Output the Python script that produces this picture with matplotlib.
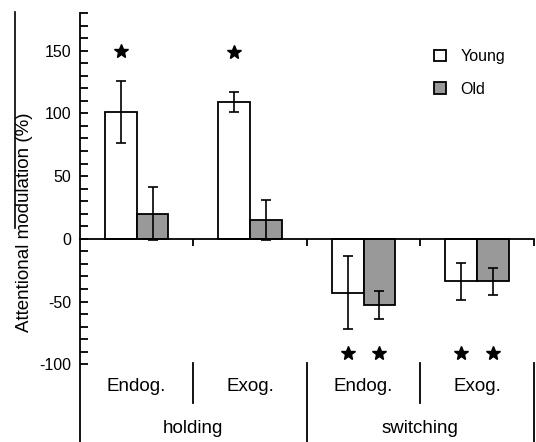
import matplotlib.pyplot as plt
import numpy as np
from matplotlib.patches import Patch
from matplotlib.lines import Line2D

plt.rcParams['font.family'] = ['Liberation Sans', 'DejaVu Sans']
plt.rcParams['axes.unicode_minus'] = False

# data
conditions = ["Endog.", "Exog.", "Endog.", "Exog."]
tasks = ["holding", "switching"]
young_mean = [101, 109, -43, -34]
young_err = [25, 8, 29, 15]
old_mean = [20, 15, -53, -34]
old_err = [21, 16, 11, 11]
# significance stars (x = group position, y = value)
star_x = [0.36, 1.36, 2.36, 2.64, 3.36, 3.64]
star_y = [150, 149, -91, -91, -91, -91]

fig = plt.figure(figsize=(5.36, 4.42), dpi=100)
ax = fig.add_axes([0.149, 0.0, 0.847, 0.9706])

x = np.arange(len(conditions)) + 0.5
w = 0.28
ekw = dict(ecolor='black', elinewidth=1.2, capsize=3.5, capthick=1.2)
ax.bar(x - w/2, young_mean, w, yerr=young_err, color='white',
       edgecolor='black', linewidth=1.3, error_kw=ekw, label='Young', zorder=2)
ax.bar(x + w/2, old_mean, w, yerr=old_err, color='#999999',
       edgecolor='black', linewidth=1.3, error_kw=ekw, label='Old', zorder=2)

ax.plot(star_x, star_y, '*', color='black', markersize=10.5, linestyle='none')

ax.set_xlim(0, 4)
ax.set_ylim(-162, 180)
ax.spines['top'].set_visible(False)
ax.spines['right'].set_visible(False)
ax.spines['bottom'].set_position(('data', 0))
ax.spines['left'].set_linewidth(1.3)
ax.spines['bottom'].set_linewidth(1.3)

ax.set_yticks(np.arange(-100, 151, 50))
ax.set_yticks(np.arange(-100, 181, 10), minor=True)
ax.tick_params(axis='y', which='both', direction='in', length=6, width=1.3,
               labelsize=11.5, pad=6)
ax.set_xticks([1, 2, 3, 4])
ax.set_xticklabels([])
ax.tick_params(axis='x', direction='out', length=5, width=1.3)
ax.set_ylabel("Attentional modulation (%)", fontsize=13.5)
ax.yaxis.set_label_coords(-0.103, 0.512)

# category labels and separators below the plot
for xi, lab in zip(x, conditions):
    ax.text(xi, -118, lab, ha='center', va='center', fontsize=13.5)
for xi, lab in zip([1, 3], tasks):
    ax.text(xi, -151, lab, ha='center', va='center', fontsize=13.5)
ax.plot([1, 1], [-99, -131], color='black', lw=1.3, clip_on=False)
ax.plot([3, 3], [-99, -131], color='black', lw=1.3, clip_on=False)
ax.plot([2, 2], [-99, -165], color='black', lw=1.3, clip_on=False)
ax.plot([4, 4], [-99, -165], color='black', lw=1.3, clip_on=False)

handles = [Patch(facecolor='white', edgecolor='black', linewidth=1.3, label='Young'),
           Patch(facecolor='#999999', edgecolor='black', linewidth=1.3, label='Old')]
ax.legend(handles=handles, loc='upper left', bbox_to_anchor=(0.795, 0.907),
          bbox_transform=fig.transFigure, frameon=False, fontsize=11.5,
          handlelength=0.75, handleheight=0.75, labelspacing=1.1, handletextpad=0.9,
          borderpad=0)

# stray line at the left edge of the scanned figure
fig.add_artist(Line2D([15/536, 15/536], [1 - 12/442, 1 - 228/442],
                      color='black', lw=1.2))

fig.savefig("out.png", dpi=100)
